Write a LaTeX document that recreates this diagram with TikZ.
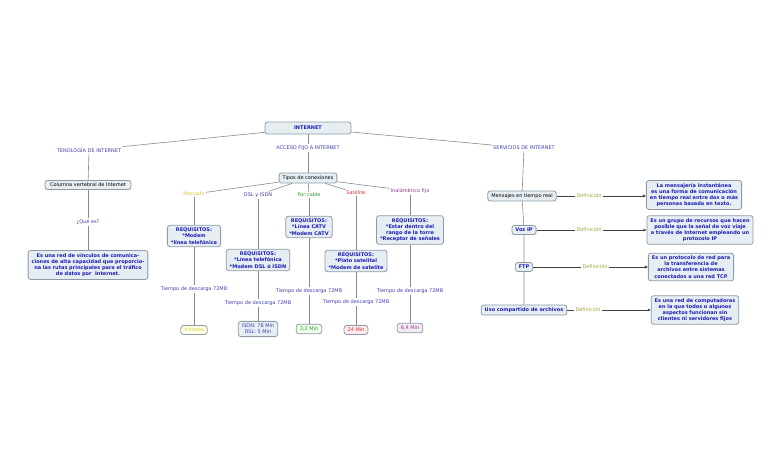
\documentclass[tikz,border=0pt]{standalone}
\usepackage{fontspec}
\setmainfont{DejaVu Sans}
\usetikzlibrary{arrows.meta}
\definecolor{boxfill}{HTML}{E6EEF4}
\definecolor{boxline}{HTML}{8E9AA4}
\definecolor{boxtext}{HTML}{1C1CB4}
\definecolor{linktext}{HTML}{4040B0}
\definecolor{edgegray}{HTML}{8A8A8A}
\definecolor{marcado}{HTML}{D8C838}
\definecolor{cable}{HTML}{2E9A2E}
\definecolor{satelite}{HTML}{D03434}
\definecolor{inalam}{HTML}{8C3C8C}
\definecolor{defin}{HTML}{A0A040}

\begin{document}
\begin{tikzpicture}[x=1pt,y=-1pt,
    concept/.style={draw=boxline,fill=boxfill,rounded corners=2.5pt,line width=0.8pt,
      inner xsep=3.5pt,inner ysep=2.6pt,align=center,font=\fontsize{5}{6.2}\selectfont},
    strong/.style={concept,font=\fontsize{5}{6.2}\selectfont\bfseries,text=boxtext},
    linkword/.style={inner sep=1pt,font=\fontsize{5}{6}\selectfont,text=linktext},
    link/.style={draw=edgegray,line width=0.6pt},
    deflink/.style={draw=black!75,line width=0.6pt},
    defarrow/.style={deflink,-{Triangle[length=3pt,width=2.6pt]}}]
    \useasboundingbox(0,0)rectangle(768,466);
    % top
    \node[strong,minimum width=86pt,minimum height=12pt](internet) at (308,128){INTERNET};
    \node[linkword](tecno) at (89,150){TENOLOGÍA DE INTERNET};
    \node[linkword](acceso) at (308,148){ACCESO FIJO A INTERNET};
    \node[linkword](servicios) at (524,148){SERVICIOS DE INTERNET};
    \draw[link](internet)--(tecno);
    \draw[link](internet)--(acceso);
    \draw[link](internet)--(servicios);
    % tecnologia
    \node[concept,inner xsep=5pt](columna) at (88,185){Columna vertebral de Internet};
    \node[linkword](quees) at (88,222){¿Qué es?};
    \node[strong](redvinc) at (88,265){Es una red de vínculos de comunica-\\ciones de alta capacidad que proporcio-\\na las rutas principales para el tráfico\\de datos por \ Internet.};
    \draw[link](tecno)--(columna);
    \draw[link](columna)--(quees)--(redvinc);
    % acceso fijo
    \node[concept](tipos) at (308,178){Tipos de conexiones};
    \draw[link](acceso)--(tipos);
    \node[linkword,text=marcado](marc) at (194,194){Marcado};
    \node[linkword](dsl) at (258,195){DSL y ISDN};
    \node[linkword,text=cable](cab) at (309,195){Por cable};
    \node[linkword,text=satelite](sat) at (356,193){Satélite};
    \node[linkword,text=inalam](ina) at (410,191){Inalámbrico fijo};
    \foreach \k in {marc,dsl,cab,sat,ina}
      \draw[link](tipos)--(\k);
    \node[strong](reqmarc) at (194,236){REQUISITOS:\\*Modem\\*línea telefónica};
    \node[strong](reqdsl) at (258,260){REQUISITOS:\\*Línea telefónica\\*Modem DSL ó ISDN};
    \node[strong](reqcab) at (309,227){REQUISITOS:\\*Línea CATV\\*Modem CATV};
    \node[strong](reqsat) at (356,261){REQUISITOS:\\*Plato satelital\\*Modem de satelite};
    \node[strong](reqina) at (410,230){REQUISITOS:\\*Estar dentro del\\rango de la torre\\*Receptor de señales};
    \node[linkword](tmarc) at (194,289){Tiempo de descarga 72MB};
    \node[linkword](tdsl) at (258,303){Tiempo de descarga 72MB};
    \node[linkword](tcab) at (309,291){Tiempo de descarga 72MB};
    \node[linkword](tsat) at (356,302){Tiempo de descarga 72MB};
    \node[linkword](tina) at (410,291){Tiempo de descarga 72MB};
    \node[concept,fill=yellow!10,text=marcado](vmarc) at (194,330){4 Horas};
    \node[concept,text=linktext](vdsl) at (258,329){ISDN: 78 Min\\DSL: 5 Min};
    \node[concept,fill=green!8,text=cable](vcab) at (309,329){3,2 Min};
    \node[concept,fill=red!8,text=satelite](vsat) at (356,330){24 Min};
    \node[concept,fill=violet!8,text=inalam](vina) at (410,328){6,4 Min};
    \foreach \k in {marc,dsl,cab,sat,ina}
      \draw[link](\k)--(req\k)--(t\k)--(v\k);
    % servicios
    \node[concept](mensajes) at (522,196){Mensajes en tiempo real};
    \node[strong](vozip) at (524,230){Voz IP};
    \node[strong](ftp) at (524,267){FTP};
    \node[strong](uso) at (524,310){Uso compartido de archivos};
    \draw[link](servicios)--(mensajes)--(vozip)--(ftp)--(uso);
    \node[strong](dmens) at (694,195){La mensajería instantánea\\es una forma de comunicación\\en tiempo real entre dos o más\\personas basada en texto.};
    \node[strong](dvoz) at (700,230){Es un grupo de recursos que hacen\\posible que la señal de voz viaje\\a través de Internet empleando un\\protocolo IP};
    \node[strong](dftp) at (691,267){Es un protocolo de red para\\la transferencia de\\archivos entre sistemas\\conectados a una red TCP};
    \node[strong](duso) at (695,310){Es una red de computadoras\\en la que todos o algunos\\aspectos funcionan sin\\clientes ni servidores fijos};
    \node[linkword,text=defin](lmens) at (589,196){Definición};
    \node[linkword,text=defin](lvoz) at (589,230){Definición};
    \node[linkword,text=defin](lftp) at (595,267){Definición};
    \node[linkword,text=defin](luso) at (588,310){Definición};
    \draw[deflink](mensajes)--(lmens);
    \draw[defarrow](lmens)--(dmens.west|-lmens);
    \draw[deflink](vozip)--(lvoz);
    \draw[defarrow](lvoz)--(dvoz.west|-lvoz);
    \draw[deflink](ftp)--(lftp);
    \draw[defarrow](lftp)--(dftp.west|-lftp);
    \draw[deflink](uso)--(luso);
    \draw[defarrow](luso)--(duso.west|-luso);
\end{tikzpicture}
\end{document}
